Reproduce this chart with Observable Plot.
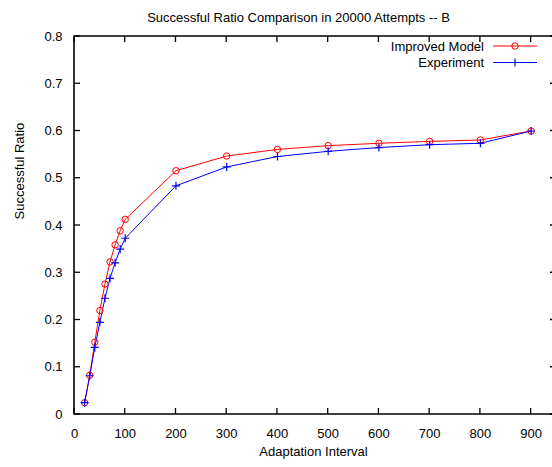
<!DOCTYPE html>
<html>
<head>
<meta charset="utf-8">
<script src="https://cdn.jsdelivr.net/npm/d3@7"></script>
<script src="https://cdn.jsdelivr.net/npm/@observablehq/plot@0.6"></script>
<style>
  html, body { margin: 0; padding: 0; background: #fff; }
</style>
</head>
<body>
<div id="chart"></div>
<script>
const intervals = [20, 30, 40, 50, 60, 70, 80, 90, 100, 200, 300, 400, 500, 600, 700, 800, 900];
const improvedModel = [0.025, 0.083, 0.153, 0.220, 0.276, 0.323, 0.359, 0.389, 0.413, 0.516, 0.547, 0.561, 0.569, 0.574, 0.578, 0.581, 0.600];
const experiment = [0.025, 0.082, 0.142, 0.195, 0.246, 0.288, 0.321, 0.350, 0.373, 0.484, 0.524, 0.546, 0.557, 0.565, 0.571, 0.574, 0.600];
const xTicks = [0, 100, 200, 300, 400, 500, 600, 700, 800, 900];
const yTicks = [0, 0.1, 0.2, 0.3, 0.4, 0.5, 0.6, 0.7, 0.8];
const seriesNames = ["Improved Model", "Experiment"];
const seriesColors = ["#ff0000", "#0000ff"];
const titleText = "Successful Ratio Comparison in 20000 Attempts -- B";
const xLabel = "Adaptation Interval";
const yLabel = "Successful Ratio";

const red = intervals.map((x, i) => ({x, y: improvedModel[i]}));
const blue = intervals.map((x, i) => ({x, y: experiment[i]}));

const FONT = "'Liberation Sans', Arial, Helvetica, sans-serif";
const FS = 13;

function frameAndLegend(index, scales, values, dimensions) {
  const x = scales.x, y = scales.y;
  const x0 = x(0), x1 = x(950), y0 = y(0), y1 = y(0.8);
  const g = d3.create("svg:g");
  g.append("path")
    .attr("d", `M${x0},${y1}V${y0}H${x1}V${y1}Z`)
    .attr("fill", "none").attr("stroke", "#000").attr("stroke-width", 1.6);
  const L = 6;
  const tk = g.append("g").attr("stroke", "#000").attr("stroke-width", 1.3);
  for (const t of xTicks) {
    tk.append("line").attr("x1", x(t)).attr("x2", x(t)).attr("y1", y0).attr("y2", y0 - L);
    tk.append("line").attr("x1", x(t)).attr("x2", x(t)).attr("y1", y1).attr("y2", y1 + L);
  }
  for (const t of yTicks) {
    tk.append("line").attr("y1", y(t)).attr("y2", y(t)).attr("x1", x0).attr("x2", x0 + L);
    tk.append("line").attr("y1", y(t)).attr("y2", y(t)).attr("x1", x1).attr("x2", x1 - L);
  }
  // legend
  const lg = g.append("g");
  seriesNames.forEach((name, i) => {
    const ly = 46 + i * 16.5;
    lg.append("text").attr("x", 484).attr("y", ly).attr("dy", "0.35em")
      .attr("text-anchor", "end").attr("font-family", FONT).attr("font-size", FS)
      .attr("fill", "#000").text(name);
    lg.append("line").attr("x1", 493).attr("x2", 537).attr("y1", ly).attr("y2", ly)
      .attr("stroke", seriesColors[i]).attr("stroke-width", 1);
    if (i === 0) {
      lg.append("circle").attr("cx", 515).attr("cy", ly).attr("r", 3.2)
        .attr("fill", "none").attr("stroke", seriesColors[i]).attr("stroke-width", 1);
    } else {
      lg.append("path").attr("d", `M511,${ly}h8M515,${ly - 4}v8`)
        .attr("stroke", seriesColors[i]).attr("stroke-width", 1.2);
    }
  });
  return g.node();
}

const chart = Plot.plot({
  width: 552,
  height: 467,
  marginTop: 36,
  marginLeft: 74,
  marginRight: 0,
  marginBottom: 53,
  style: {fontFamily: FONT, fontSize: FS + "px", color: "#000", background: "#fff"},
  x: {domain: [0, 950], range: [74, 556], label: null},
  y: {domain: [0, 0.8], range: [414, 36], label: null},
  marks: [
    Plot.axisX(xTicks, {anchor: "bottom", tickSize: 0, tickPadding: 14, tickFormat: d => String(d), fontSize: FS, label: null}),
    Plot.axisY(yTicks, {anchor: "left", tickSize: 0, tickPadding: 12, tickFormat: d => String(d), fontSize: FS, label: null}),
    Plot.line(red, {x: "x", y: "y", stroke: seriesColors[0], strokeWidth: 1}),
    Plot.line(blue, {x: "x", y: "y", stroke: seriesColors[1], strokeWidth: 1}),
    Plot.dot(red, {x: "x", y: "y", r: 3.2, stroke: seriesColors[0], fill: "none", strokeWidth: 1}),
    Plot.dot(blue, {x: "x", y: "y", r: 2.7, symbol: "plus", stroke: seriesColors[1], fill: "none", strokeWidth: 1.2}),
    frameAndLegend,
    Plot.text([titleText], {text: d => d, frameAnchor: "top", dx: -15, dy: -23.5, fontSize: FS, fill: "#000"}),
    Plot.text([xLabel], {text: d => d, frameAnchor: "bottom", dy: 41, fontSize: FS, fill: "#000"}),
    Plot.text([yLabel], {text: d => d, frameAnchor: "left", rotate: -90, dx: -55, dy: -6, fontSize: FS, fill: "#000"})
  ]
});
document.getElementById("chart").appendChild(chart);
</script>
</body>
</html>
